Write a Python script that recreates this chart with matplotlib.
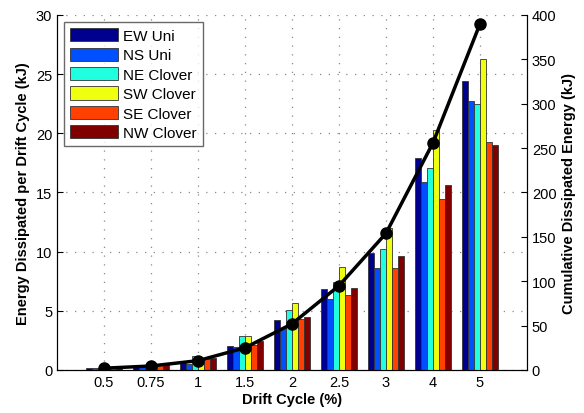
import matplotlib
matplotlib.use("Agg")
import matplotlib.pyplot as plt
import numpy as np

plt.rcParams['font.family'] = ['Liberation Sans', 'DejaVu Sans']

drift_labels = ['0.5', '0.75', '1', '1.5', '2', '2.5', '3', '4', '5']
series_names = ['EW Uni', 'NS Uni', 'NE Clover', 'SW Clover', 'SE Clover', 'NW Clover']
ew_uni    = [0.20, 0.35, 0.55, 2.05, 4.20, 6.85, 9.90, 17.9, 24.4]
ns_uni    = [0.20, 0.30, 0.50, 1.95, 3.55, 6.00, 8.65, 15.9, 22.7]
ne_clover = [0.15, 0.45, 1.15, 2.85, 5.05, 7.45, 10.2, 17.1, 22.5]
sw_clover = [0.15, 0.40, 0.70, 2.90, 5.70, 8.70, 12.0, 20.3, 26.3]
se_clover = [0.15, 0.40, 0.90, 2.15, 4.30, 6.35, 8.65, 14.45, 19.25]
nw_clover = [0.15, 0.50, 1.00, 2.48, 4.50, 6.95, 9.60, 15.6, 19.05]
cumulative = [2.0, 4.5, 10.5, 25.0, 52.0, 95.0, 154.0, 256.0, 390.0]

colors = ['#00008F', '#0050FF', '#20FFDF', '#EFFF10', '#FF4000', '#800000']
series = [ew_uni, ns_uni, ne_clover, sw_clover, se_clover, nw_clover]

fig = plt.figure(figsize=(5.84, 4.14), dpi=100)
ax = fig.add_axes([0.0976, 0.1039, 0.8048, 0.8575])
x = np.arange(1, len(drift_labels) + 1)
w = 0.127
for i, (vals, name, c) in enumerate(zip(series, series_names, colors)):
    ax.bar(x + (i - 2.5) * w, vals, width=w, color=c, edgecolor='#333333',
           linewidth=0.6, label=name, zorder=3)

ax.set_xlim(0, 10)
ax.set_ylim(0, 30)
ax.set_yticks(np.arange(0, 31, 5))
ax.set_xticks(x)
ax.set_xticklabels(drift_labels)
ax.grid(True, linestyle=(0, (1, 6)), color='#888888', linewidth=0.9, zorder=0)
ax.set_axisbelow(True)
ax.spines['top'].set_visible(False)
ax.tick_params(direction='in', labelsize=10.5, length=4, top=False)
ax.set_xlabel('Drift Cycle (%)', fontsize=10.5, fontweight='bold', labelpad=2)
ax.set_ylabel('Energy Dissipated per Drift Cycle (kJ)', fontsize=10.5, fontweight='bold', labelpad=4)

leg = ax.legend(loc='upper left', bbox_to_anchor=(0.015, 0.98), fontsize=11,
                frameon=True, fancybox=False, edgecolor='#444444',
                handlelength=3.1, handleheight=0.95, labelspacing=0.3,
                borderaxespad=0.0, handletextpad=0.35, borderpad=0.4)
leg.get_frame().set_linewidth(1.0)

ax2 = ax.twinx()
ax2.plot(x, cumulative, color='black', linewidth=2.5, marker='o', markersize=8, zorder=5)
ax2.set_ylim(0, 400)
ax2.set_yticks(np.arange(0, 401, 50))
ax2.spines['top'].set_visible(False)
ax2.tick_params(direction='in', labelsize=10.5, length=4)
ax2.set_ylabel('Cumulative Dissipated Energy (kJ)', fontsize=10.5, fontweight='bold', labelpad=4)

fig.savefig('out.png', dpi=100)
